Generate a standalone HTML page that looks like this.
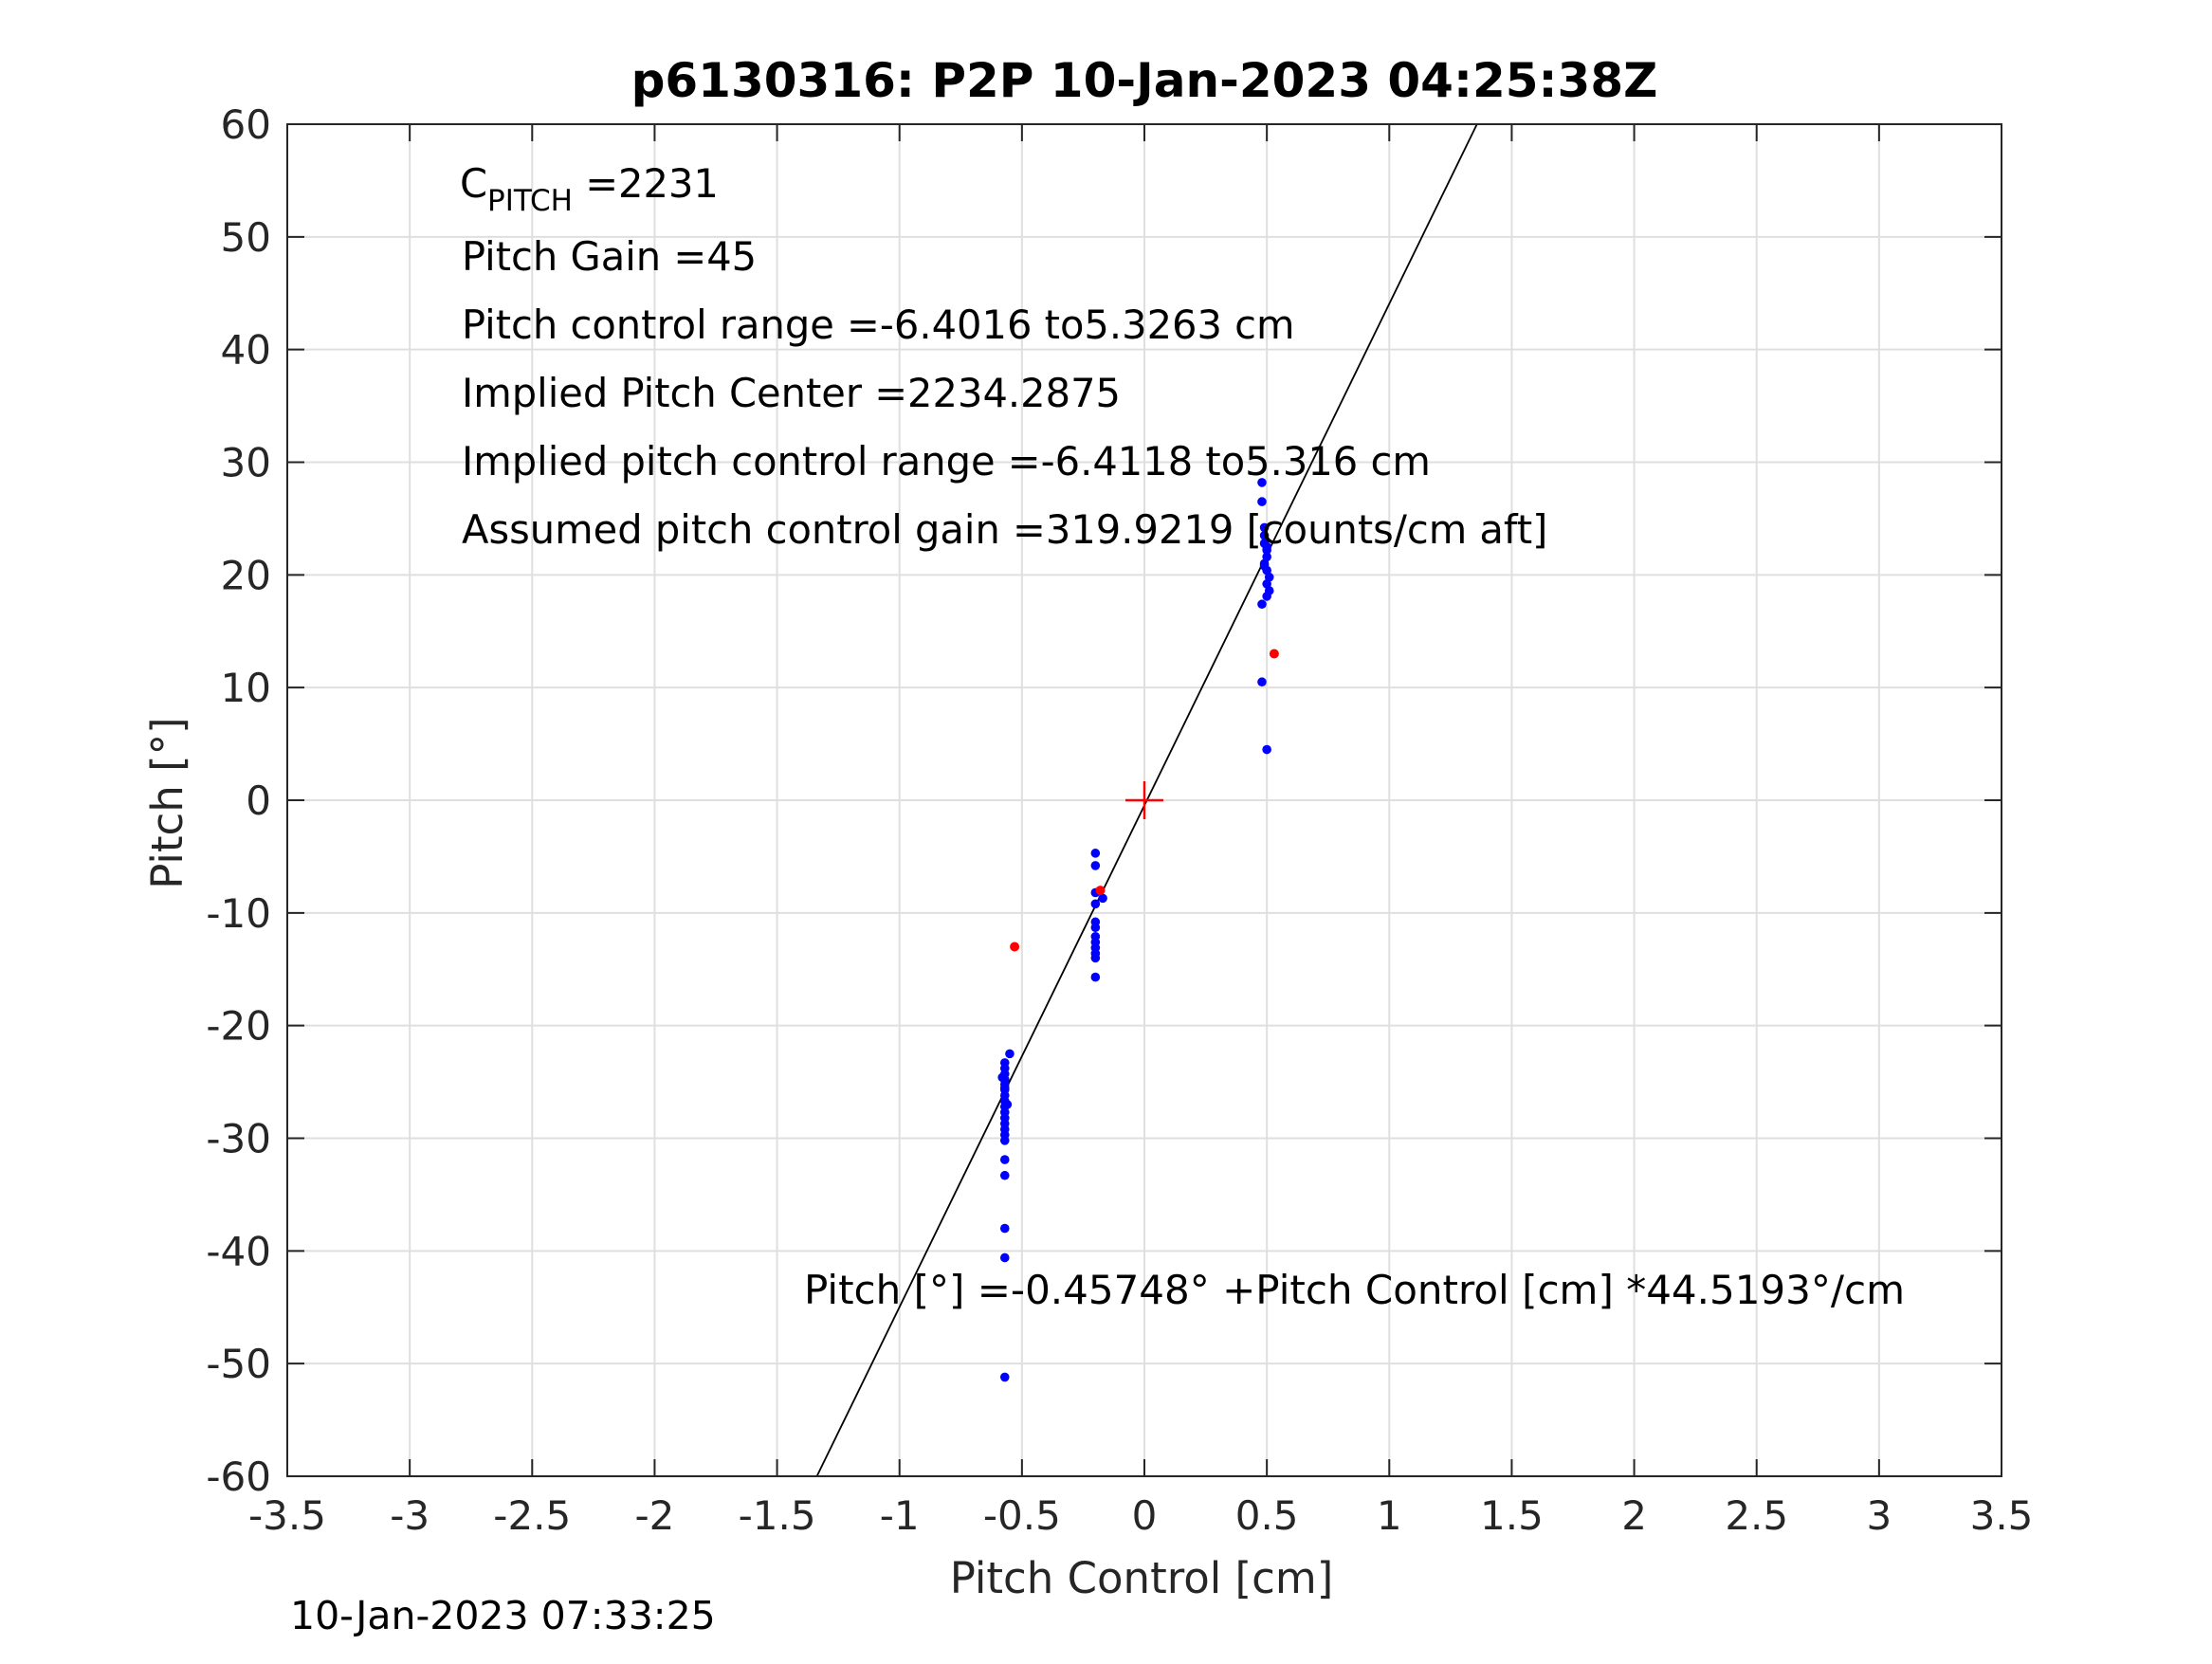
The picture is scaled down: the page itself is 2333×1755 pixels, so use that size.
<!DOCTYPE html>
<html><head><meta charset="utf-8"><style>
html,body{margin:0;padding:0;background:#fff;}
svg text{font-family:"DejaVu Sans","Liberation Sans",sans-serif;}
</style></head><body>
<svg id="chart" width="2333" height="1750" xmlns="http://www.w3.org/2000/svg">
<rect width="2333" height="1750" fill="#fff"/>
<g id="grid"></g>
<g id="marks"></g>
<g id="axes"></g>
<text x="1207" y="102" text-anchor="middle" font-size="50" font-weight="bold" fill="#000">p6130316: P2P 10-Jan-2023 04:25:38Z</text>
<text x="1204" y="1680" text-anchor="middle" font-size="45" fill="#262626">Pitch Control [cm]</text>
<text transform="translate(192,847) rotate(-90)" text-anchor="middle" font-size="45" fill="#262626">Pitch [°]</text>
<text x="306" y="1718" font-size="41" fill="#000">10-Jan-2023 07:33:25</text>
<g font-size="41.6" fill="#000">
<text x="485" y="208">C<tspan font-size="31" dy="14">PITCH</tspan><tspan dy="-14"> =2231</tspan></text>
<text x="487" y="285">Pitch Gain =45</text>
<text x="487" y="357">Pitch control range =-6.4016 to5.3263 cm</text>
<text x="487" y="429">Implied Pitch Center =2234.2875</text>
<text x="487" y="501">Implied pitch control range =-6.4118 to5.316 cm</text>
<text x="487" y="573">Assumed pitch control gain =319.9219 [counts/cm aft]</text>
<text x="848" y="1375" font-size="42">Pitch [°] =-0.45748° +Pitch Control [cm] *44.5193°/cm</text>
</g>
</svg>
<script>
const xTicks=[-3.5,-3,-2.5,-2,-1.5,-1,-0.5,0,0.5,1,1.5,2,2.5,3,3.5];
const yTicks=[-60,-50,-40,-30,-20,-10,0,10,20,30,40,50,60];
const fitIntercept=-0.45748;
const fitSlope=44.5193;
const blueX=[-0.55,-0.57,-0.57,-0.57,-0.57,-0.57,-0.57,-0.57,-0.57,-0.57,-0.57,-0.57,-0.57,-0.57,-0.57,-0.57,-0.57,-0.57,-0.57,-0.57,-0.57,-0.58,-0.57,-0.56,
 -0.2,-0.2,-0.2,-0.17,-0.2,-0.2,-0.2,-0.2,-0.2,-0.2,-0.2,-0.2,-0.2,
 0.48,0.48,0.49,0.49,0.49,0.5,0.5,0.49,0.5,0.51,0.49,0.5,0.51,0.5,0.5,0.48,0.48,0.5];
const blueY=[-22.5,-23.3,-23.8,-24.3,-24.8,-25.2,-25.7,-26.2,-26.7,-27.2,-27.7,-28.2,-28.7,-29.2,-29.7,-30.2,-31.9,-33.3,-38,-40.6,-51.2,-24.6,-25.5,-27,
 -4.7,-5.8,-8.2,-8.7,-9.2,-10.8,-11.3,-12.1,-12.6,-13.1,-13.6,-14.0,-15.7,
 28.2,26.5,24.2,23.5,22.8,22.2,21.6,21,20.4,19.8,20.8,19.2,18.6,18.1,22.5,17.4,10.5,4.5];
const redX=[-0.53,-0.18,0.53];
const redY=[-13,-8,13];
const centerX=[0];const centerY=[0];
const L=303,R=2111,T=131,B=1557,XMIN=-3.5,XMAX=3.5,YMIN=-60,YMAX=60;
function sx(v){return L+(v-XMIN)/(XMAX-XMIN)*(R-L);}
function sy(v){return B-(v-YMIN)/(YMAX-YMIN)*(B-T);}
const NS='http://www.w3.org/2000/svg';
function mk(tag,attrs,parent){const e=document.createElementNS(NS,tag);for(const k in attrs)e.setAttribute(k,attrs[k]);parent.appendChild(e);return e;}
const grid=document.getElementById('grid'),marks=document.getElementById('marks'),axes=document.getElementById('axes');
xTicks.forEach(t=>{const x=sx(t);
 const g=mk('line',{x1:x,x2:x,y1:T,y2:B,stroke:'#dfdfdf','stroke-width':2},grid);
 
 
 mk('line',{x1:x,x2:x,y1:B,y2:B-18,stroke:'#262626','stroke-width':2},axes);
 mk('line',{x1:x,x2:x,y1:T,y2:T+18,stroke:'#262626','stroke-width':2},axes);
 const tx=mk('text',{x:x,y:B+56,'text-anchor':'middle','font-size':42,fill:'#262626'},axes);
 tx.textContent=String(t);
 
 
});
yTicks.forEach(t=>{const y=sy(t);
 const g=mk('line',{x1:L,x2:R,y1:y,y2:y,stroke:'#dfdfdf','stroke-width':2},grid);
 
 
 mk('line',{x1:L,x2:L+18,y1:y,y2:y,stroke:'#262626','stroke-width':2},axes);
 mk('line',{x1:R,x2:R-18,y1:y,y2:y,stroke:'#262626','stroke-width':2},axes);
 const tx=mk('text',{x:L-17,y:y+15,'text-anchor':'end','font-size':42,fill:'#262626'},axes);
 tx.textContent=String(t);
 
 
});
const box=mk('rect',{x:L,y:T,width:R-L,height:B-T,fill:'none',stroke:'#262626','stroke-width':2},axes);


const xa=(YMIN-fitIntercept)/fitSlope,xb=(YMAX-fitIntercept)/fitSlope;
const fl=mk('line',{x1:sx(xa),y1:sy(YMIN),x2:sx(xb),y2:sy(YMAX),stroke:'#000','stroke-width':1.8},marks);


blueX.forEach((v,i)=>{const c=mk('circle',{cx:sx(v),cy:sy(blueY[i]),r:4.8,fill:'#0000ff'},marks);
 
 });
redX.forEach((v,i)=>{const c=mk('circle',{cx:sx(v),cy:sy(redY[i]),r:5,fill:'#ff0000'},marks);
 
 });
centerX.forEach((v,i)=>{const cx=sx(v),cy=sy(centerY[i]);
 const p=mk('path',{d:`M${cx-20},${cy}H${cx+20}M${cx},${cy-20}V${cy+20}`,stroke:'#ff0000','stroke-width':2.5,fill:'none'},marks);
 
 });
</script>
</body></html>
